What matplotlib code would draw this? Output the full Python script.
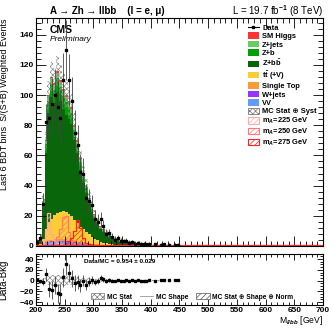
import numpy as np
import matplotlib
matplotlib.use("Agg")
import matplotlib.pyplot as plt
from matplotlib.patches import Patch
from matplotlib.lines import Line2D
from matplotlib.ticker import MultipleLocator

plt.rcParams['font.family'] = ['Liberation Sans', 'DejaVu Sans']
plt.rcParams['font.weight'] = 'bold'
plt.rcParams['hatch.linewidth'] = 0.5
plt.rcParams['mathtext.fontset'] = 'custom'
plt.rcParams['mathtext.rm'] = 'Liberation Sans:bold'
plt.rcParams['mathtext.bf'] = 'Liberation Sans:bold'
plt.rcParams['mathtext.it'] = 'Liberation Sans:bold:italic'
plt.rcParams['axes.linewidth'] = 0.8

# 5 GeV bins, 200 - 450 GeV
edges = np.arange(200, 455, 5)

# background components (S/(S+B) weighted events)
vv = [0.2, 0.8, 1.5, 2.2, 2.6, 2.8, 3.0, 3.0, 3.0, 2.9, 2.8, 2.6, 2.4, 2.2, 2.0, 1.8, 1.5, 1.3, 1.1, 0.9,
      0.8, 0.7, 0.6, 0.5, 0.4, 0.35, 0.3, 0.27, 0.24, 0.22, 0.2, 0.18, 0.16, 0.15, 0.14, 0.12, 0.11, 0.1, 0.09, 0.08,
      0.07, 0.07, 0.06, 0.06, 0.05, 0.05, 0.04, 0.04, 0.04, 0.03]
wjets = [0, 0.05, 0.1, 0.2, 0.2, 0.3, 0.3, 0.3, 0.3, 0.3, 0.3, 0.3, 0.25, 0.2, 0.2, 0.2, 0.15, 0.15, 0.1, 0.1,
         0.1, 0.08, 0.07, 0.06, 0.05, 0.04, 0.04, 0.03, 0.03, 0.03, 0.02, 0.02, 0.02, 0.02, 0.01, 0.01, 0.01, 0.01, 0.01, 0.01,
         0, 0, 0, 0, 0, 0, 0, 0, 0, 0]
stop = [0, 0.1, 0.3, 0.6, 0.9, 1.1, 1.2, 1.3, 1.3, 1.3, 1.3, 1.2, 1.2, 1.1, 1.0, 0.9, 0.8, 0.7, 0.6, 0.5,
        0.4, 0.35, 0.3, 0.25, 0.2, 0.18, 0.15, 0.13, 0.11, 0.1, 0.09, 0.08, 0.07, 0.06, 0.05, 0.05, 0.04, 0.04, 0.03, 0.03,
        0.03, 0.02, 0.02, 0.02, 0.02, 0.01, 0.01, 0.01, 0.01, 0.01]
ttbar = [0, 0.5, 3, 8, 12, 14, 16, 17, 18, 19, 18, 17, 16, 14, 12, 10, 8.5, 7, 6, 4.5,
         3.5, 2.7, 2.0, 1.5, 1.2, 0.9, 0.7, 0.5, 0.4, 0.3, 0.25, 0.2, 0.17, 0.14, 0.12, 0.1, 0.08, 0.07, 0.06, 0.05,
         0.04, 0.04, 0.03, 0.03, 0.02, 0.02, 0.02, 0.02, 0.01, 0.01]
zbb = [1.0, 3.6, 21.4, 50.5, 72.5, 80.3, 73.9, 80.2, 73.7, 67.3, 64.1, 62.8, 60.9, 52.6, 46.3, 37.7, 30.9, 25.7, 19.9, 16.5,
       13.3, 10.8, 8.1, 7.1, 5.9, 5.0, 4.1, 3.5, 3.0, 2.5, 2.3, 2.0, 1.7, 1.5, 1.35, 1.2, 1.05, 0.95, 0.85, 0.78,
       0.7, 0.63, 0.57, 0.52, 0.47, 0.43, 0.4, 0.36, 0.33, 0.3]
zb = [0.2, 0.6, 2.5, 6, 8, 9, 9, 9.5, 9, 8.5, 9, 8, 7.5, 6.5, 5.5, 4.8, 4, 3.3, 2.7, 2.2,
      1.8, 1.4, 1.1, 0.9, 0.75, 0.6, 0.5, 0.42, 0.36, 0.3, 0.26, 0.23, 0.2, 0.18, 0.16, 0.14, 0.12, 0.11, 0.1, 0.09,
      0.08, 0.07, 0.07, 0.06, 0.06, 0.05, 0.05, 0.05, 0.04, 0.04]
zjets = [0.1, 0.3, 1, 2, 3, 3.5, 3.5, 3.5, 3.5, 3.5, 3.3, 3, 2.8, 2.5, 2.2, 1.9, 1.6, 1.4, 1.2, 1,
         0.8, 0.7, 0.6, 0.5, 0.4, 0.35, 0.3, 0.25, 0.2, 0.2, 0.15, 0.13, 0.12, 0.1, 0.09, 0.08, 0.07, 0.06, 0.06, 0.05,
         0.05, 0.04, 0.04, 0.04, 0.03, 0.03, 0.03, 0.03, 0.02, 0.02]
smh = [0, 0.05, 0.2, 0.5, 0.8, 1.0, 1.1, 1.2, 1.2, 1.2, 1.2, 1.1, 1.0, 0.9, 0.8, 0.7, 0.6, 0.5, 0.4, 0.35,
       0.3, 0.25, 0.2, 0.15, 0.12, 0.1, 0.08, 0.07, 0.06, 0.05, 0.04, 0.04, 0.03, 0.03, 0.03, 0.02, 0.02, 0.02, 0.02, 0.02,
       0.01, 0.01, 0.01, 0.01, 0.01, 0.01, 0.01, 0.01, 0.01, 0.01]
bkg_err = [0.5, 1.5, 4, 7, 9, 10, 10, 10, 10, 10, 9, 9, 8.5, 8, 7, 6, 5, 4.5, 4, 3.5,
           3, 2.5, 2, 1.8, 1.5, 1.3, 1.1, 1, 0.9, 0.8, 0.7, 0.65, 0.6, 0.55, 0.5, 0.45, 0.4, 0.4, 0.35, 0.35,
           0.3, 0.3, 0.3, 0.25, 0.25, 0.25, 0.2, 0.2, 0.2, 0.2]

# signal hypotheses (not stacked)
sig225 = [0, 0, 4, 10, 22, 8, 4, 2, 1, 0, 0, 0, 0, 0, 0, 0, 0, 0, 0, 0] + [0] * 30
sig250 = [0, 0, 0, 0, 0, 0, 3, 6, 11, 19, 20, 9, 4, 2, 0, 0, 0, 0, 0, 0] + [0] * 30
sig275 = [0, 0, 0, 0, 0, 0, 0, 0, 0, 0, 2, 3, 5, 10, 17, 12, 5, 2, 1, 0] + [0] * 30

nan = np.nan
data = [2.5, 5, 28, 82, 85, 94, 100, 92, 85, 110, 130, 110, 96, 75, 67, 49, 48, 32, 30, 27,
        18, 16, 18, 13, 8, 8.5, 6, 4.2, 5.4, 3.5, 3.0, 3.2, 2.2, 2.4, 1.6, 1.9, 1.2, 1.5, 1.0, 1.3,
        nan, 1.0, nan, 0.9, 1.1, nan, 0.8, nan, 0.7, 0.9]
data_err = [2, 3, 7, 12, 15, 17, 17, 18, 18, 18, 20, 17, 16, 15, 13, 12, 10, 9, 8, 7,
            6, 5, 4.5, 4, 3.5, 3, 2.8, 2.5, 2.2, 2, 1.8, 1.8, 1.6, 1.6, 1.5, 1.5, 1.4, 1.4, 1.3, 1.3,
            1.2, 1.2, 1.2, 1.2, 1.1, 1.1, 1.1, 1.1, 1.0, 1.0]

stack = [(vv, '#6699ff'), (wjets, '#9933ff'), (stop, '#ff9933'), (ttbar, '#ffcc33'),
         (zbb, '#0a660a'), (zb, '#00a000'), (zjets, '#66cc66'), (smh, '#ff3333')]
signals = [(sig225, '#ffaaaa'), (sig250, '#ff7777'), (sig275, '#ff2222')]

centers = 0.5 * (edges[1:] + edges[:-1])
data = np.array(data)
data_err = np.array(data_err)
bkg_err = np.array(bkg_err)
mask = ~np.isnan(data)

fig = plt.figure(figsize=(3.32, 3.28), dpi=100)
ax = fig.add_axes([0.1084, 0.25, 0.8645, 0.695])
ax2 = fig.add_axes([0.1084, 0.069, 0.8645, 0.157])

base = np.zeros(len(centers))
for vals, col in stack:
    v = np.array(vals, dtype=float)
    ax.stairs(base + v, edges, baseline=base, fill=True, color=col, lw=0)
    base = base + v
total = base

ax.stairs(total + bkg_err, edges, baseline=total - bkg_err, fill=True, facecolor='none',
          edgecolor='#8a8a8a', hatch='xxxxxx', lw=0)

for vals, col in signals:
    ax.stairs(vals, edges, fill=True, facecolor='none', edgecolor=col, hatch='//////', lw=0)
    ax.stairs(vals, edges, color=col, lw=0.9)
ax.axhline(0, color='#ff2222', lw=1.6, zorder=3)

ax.errorbar(centers[mask], data[mask], yerr=data_err[mask], fmt='s', color='k', ms=2,
            ecolor='#444444', elinewidth=0.6, capsize=0, zorder=4)

ax.set_xlim(200, 700)
ax.set_ylim(0, 151)
ax.xaxis.set_major_locator(MultipleLocator(50))
ax.xaxis.set_minor_locator(MultipleLocator(10))
ax.yaxis.set_major_locator(MultipleLocator(20))
ax.yaxis.set_minor_locator(MultipleLocator(4))
ax.tick_params(which='both', direction='in', top=True, right=True, labelbottom=False, labelsize=6, width=0.6, pad=2)
ax.tick_params(which='major', length=7)
ax.tick_params(which='minor', length=3.5)
ax.set_ylabel('Last 6 BDT bins  S/(S+B) Weighted Events', fontsize=6.5, loc='top')
ax.yaxis.set_label_coords(-0.095, 1.0)

ax.text(0.049, 0.947, 'CMS', transform=ax.transAxes, fontsize=7.5, va='center')
ax.text(0.049, 0.904, 'Preliminary', transform=ax.transAxes, fontsize=6, style='italic',
        weight='normal', va='center')
fig.text(0.150, 0.966, 'A → Zh → llbb    (l = e, μ)', fontsize=7, va='center')
fig.text(0.973, 0.966, 'L = 19.7 fb$^{-1}$ (8 TeV)', fontsize=7, weight='normal', ha='right', va='center')

handles = [Line2D([0], [0], color='k', marker='s', ms=2, lw=0.8)]
labels = ['Data']
names = ['VV', 'W+jets', 'Single Top', r't$\bar{\mathrm{t}}$ (+V)', r'Z+b$\bar{\mathrm{b}}$', 'Z+b', 'Z+jets', 'SM Higgs']
for (vals, col), nm in reversed(list(zip(stack, names))):
    handles.append(Patch(facecolor=col, edgecolor='none'))
    labels.append(nm)
handles.append(Patch(facecolor='white', edgecolor='#777777', hatch='xxxxxx', lw=0.6))
labels.append('MC Stat ⊕ Syst')
for (vals, col), m in zip(signals, [225, 250, 275]):
    handles.append(Patch(facecolor='none', edgecolor=col, hatch='//////', lw=0.8))
    labels.append('m$_{A}$=%d GeV' % m)
ax.legend(handles, labels, loc='upper left', bbox_to_anchor=(0.725, 0.99), frameon=False,
          fontsize=5.4, borderpad=0, handlelength=1.5, handleheight=0.95, labelspacing=0.08,
          handletextpad=0.4)

# lower panel: data - background
diff = data - total
ax2.stairs(bkg_err, edges, baseline=-bkg_err, fill=True, facecolor='none',
           edgecolor='#8a8a8a', hatch='xxxxxx', lw=0)
ax2.errorbar(centers[mask], diff[mask], yerr=data_err[mask], fmt='s', color='k', ms=2,
             ecolor='#444444', elinewidth=0.6, capsize=0, zorder=4)
ax2.set_xlim(200, 700)
ax2.set_ylim(-46.2, 49.8)
ax2.xaxis.set_major_locator(MultipleLocator(50))
ax2.xaxis.set_minor_locator(MultipleLocator(10))
ax2.yaxis.set_major_locator(MultipleLocator(20))
ax2.yaxis.set_minor_locator(MultipleLocator(5))
ax2.tick_params(which='both', direction='in', top=True, right=True, labelsize=6, width=0.6, pad=1.5)
ax2.tick_params(which='major', length=4.5)
ax2.tick_params(which='minor', length=2.2)
ax2.set_ylabel('Data-Bkg', fontsize=7)
ax2.yaxis.set_label_coords(-0.095, 0.5)
ax2.set_xlabel(r'M$_{llbb}$ [GeV]', fontsize=6.2, loc='right')
ax2.xaxis.set_label_coords(1.0, -0.17)
ax2.text(0.293, 0.85, 'Data/MC = 0.954 ± 0.029', transform=ax2.transAxes, fontsize=4.6,
         ha='center', va='center')

h2 = [Patch(facecolor='white', edgecolor='#777777', hatch='xxxxxx', lw=0.5),
      Line2D([0], [0], color='#999999', lw=0.6),
      Patch(facecolor='white', edgecolor='#555555', hatch='//////', lw=0.5)]
l2 = ['MC Stat', 'MC Shape', 'MC Stat ⊕ Shape ⊕ Norm']
ax2.legend(h2, l2, loc='lower left', bbox_to_anchor=(0.175, 0.0), ncol=3, frameon=False,
           fontsize=4.8, borderpad=0.2, handlelength=2.0, handleheight=1.0, columnspacing=1.2,
           handletextpad=0.4)

fig.savefig('out.png', dpi=100)
